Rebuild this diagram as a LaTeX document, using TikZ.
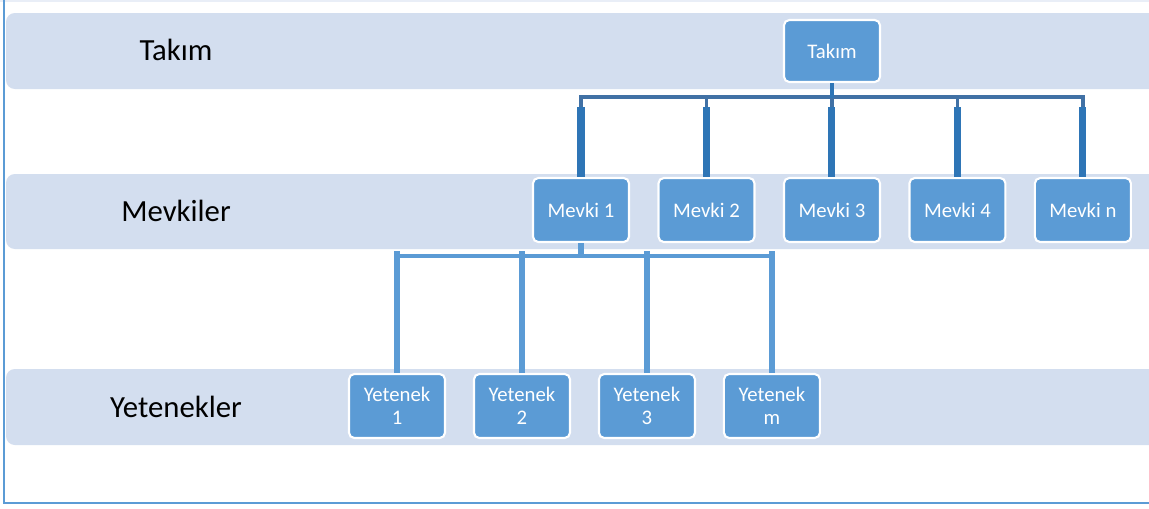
\documentclass[tikz,border=0pt]{standalone}
\usepackage{fontspec}
\setmainfont{Carlito}
\usetikzlibrary{shapes,arrows}
\definecolor{bandblue}{RGB}{211,222,239}
\definecolor{boxblue}{RGB}{91,155,213}
\definecolor{darkline}{RGB}{46,117,182}
\definecolor{barline}{RGB}{65,113,165}
\tikzstyle{block} = [rectangle, draw=white, line width=1.2pt, fill=boxblue, text=white, align=center, rounded corners=3pt, minimum width=1.92cm, minimum height=1.28cm, font=\fontsize{11.8}{13}\selectfont]
\tikzstyle{band} = [fill=bandblue, rounded corners=5pt]
\tikzstyle{level} = [font=\fontsize{17.5}{20}\selectfont]
\tikzstyle{frame} = [draw=boxblue, line width=1.1pt]
\tikzstyle{bar} = [draw=barline, line width=1.9pt]
\tikzstyle{stub} = [draw=darkline, line width=4pt]
\tikzstyle{subbar} = [draw=boxblue, line width=2.3pt]
\tikzstyle{subline} = [draw=boxblue, line width=3.4pt]

\begin{document}
\begin{tikzpicture}[x=0.02cm, y=-0.02cm, node distance=2.51cm]
      \useasboundingbox (0,0) rectangle (1149,508);
      % background bands and frame
      \path [band] (6,13) rectangle (1175,89);
      \path [band] (6,174) rectangle (1175,249);
      \path [band] (6,369) rectangle (1175,445);
      \draw [draw=bandblue!50, line width=1pt] (0,1) -- (1149,1);
      \draw [frame] (4,0) -- (4,503) -- (1175,503);

      % level labels
      \node [level] (ltakim) at (176,50) {Takım};
      \node [level] (lmevki) at (176,211) {Mevkiler};
      \node [level] (lyetenek) at (176,407) {Yetenekler};

      % place nodes
      \node [block, minimum height=1.24cm] (takim) at (832,51) {Takım};
      \node [block] (mevki1) at (581,210) {Mevki 1};
      \node [block, right of=mevki1] (mevki2) {Mevki 2};
      \node [block, right of=mevki2] (mevki3) {Mevki 3};
      \node [block, right of=mevki3] (mevki4) {Mevki 4};
      \node [block, right of=mevki4] (mevkin) {Mevki n};
      \node [block] (yetenek1) at (397,406) {Yetenek\\1};
      \node [block, right of=yetenek1, node distance=2.5cm] (yetenek2) {Yetenek\\2};
      \node [block, right of=yetenek2, node distance=2.5cm] (yetenek3) {Yetenek\\3};
      \node [block, right of=yetenek3, node distance=2.5cm] (yetenekm) {Yetenek\\m};

      % draw edges
      \foreach \i in {1,2,3,4,n}
        \path [bar] (takim.south) -- ++(0,14) -| (mevki\i.north);
      \path [stub, line width=2.8pt] (takim.south) -- ++(0,15);
      \foreach \i in {1,2,3,4,n}
        \path [stub] (mevki\i.north) -- ++(0,-70);

      \foreach \i in {1,2,3,m}
        \path [subbar] (mevki1.south) -- ++(0,13) -| (yetenek\i.north);
      \path [subline] (mevki1.south) -- ++(0,13);
      \foreach \i in {1,2,3,m}
        \path [subline] (yetenek\i.north) -- ++(0,-122);
\end{tikzpicture}
\end{document}
